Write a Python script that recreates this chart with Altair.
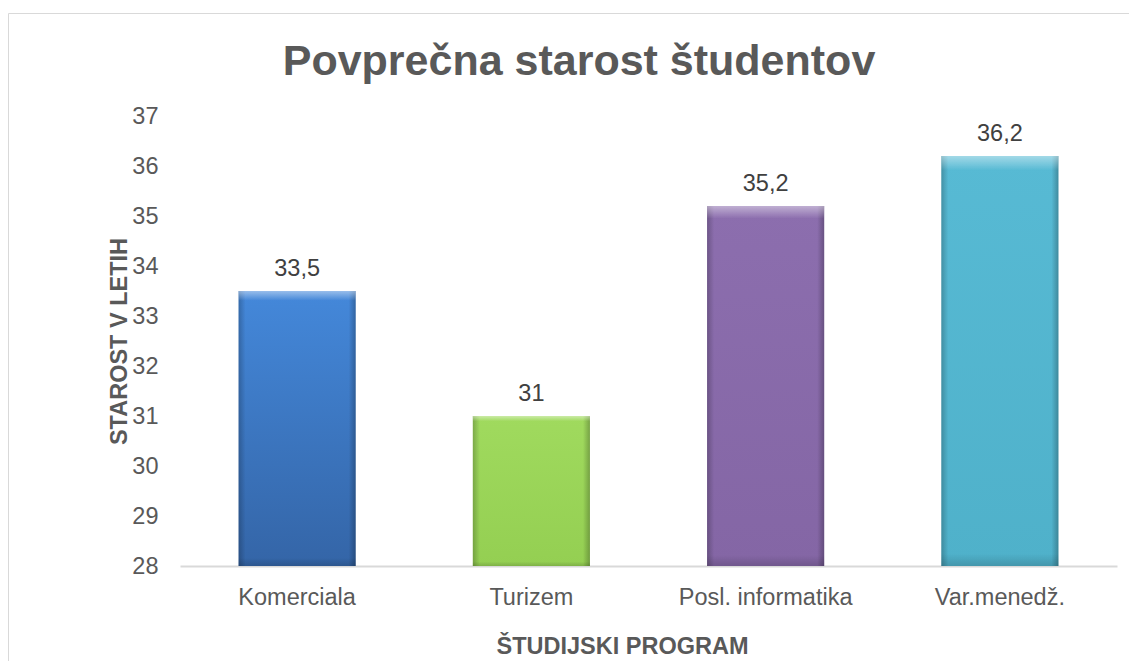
import altair as alt
import pandas as pd

programs = ["Komerciala", "Turizem", "Posl. informatika", "Var.menedž."]
ages = [33.5, 31, 35.2, 36.2]
top_colors = ["#4488da", "#a0da5e", "#8c6eae", "#57bad4"]
bottom_colors = ["#3465a7", "#94cf52", "#8466a5", "#4fb1ca"]
y_ticks = [28, 29, 30, 31, 32, 33, 34, 35, 36, 37]

FONT = "Liberation Sans, Arial, sans-serif"
TXT = "#595959"

df = pd.DataFrame({"program": programs, "age": ages})
base = alt.Chart(df)

x_enc = alt.X(
    "program:N",
    sort=programs,
    scale=alt.Scale(paddingInner=0.5, paddingOuter=0.25),
    axis=alt.Axis(
        title="ŠTUDIJSKI PROGRAM",
        labelAngle=0,
        labelFont=FONT,
        labelFontSize=23.5,
        labelColor=TXT,
        labelPadding=19,
        ticks=False,
        domainColor="#d9d9d9",
        domainWidth=2,
        titleFont=FONT,
        titleFontSize=23.5,
        titleFontWeight="bold",
        titleColor=TXT,
        titleX=442,
        titleY=87,
        titleAlign="center",
        titleBaseline="alphabetic",
        grid=False,
    ),
)
y_enc = alt.Y(
    "age:Q",
    scale=alt.Scale(domain=[28, 37], zero=False, nice=False),
    axis=alt.Axis(
        title="STAROST V LETIH",
        values=y_ticks,
        labelFont=FONT,
        labelFontSize=23.5,
        labelColor=TXT,
        labelPadding=22,
        ticks=False,
        domain=False,
        grid=False,
        titleFont=FONT,
        titleFontSize=23.5,
        titleFontWeight="bold",
        titleColor=TXT,
        titleAngle=270,
        titleX=-54,
        titleY=225,
        titleAlign="center",
        titleBaseline="alphabetic",
    ),
)

layers = []

# chart frame border (top and left edges visible in the frame)
frame = alt.Data(values=[{"k": 1}])
top_line = alt.Chart(frame).mark_rule(color="#d9d9d9", strokeWidth=1).encode(
    x=alt.value(-171.5), x2=alt.value(1200), y=alt.value(-102.5)
)
left_line = alt.Chart(frame).mark_rule(color="#d9d9d9", strokeWidth=1).encode(
    x=alt.value(-171.5), y=alt.value(-102.5), y2=alt.value(800)
)
layers += [top_line, left_line]

for prog, tc, bc in zip(programs, top_colors, bottom_colors):
    bar = base.transform_filter(alt.datum.program == prog).mark_bar(
        color=alt.Gradient(
            gradient="linear", x1=0, x2=0, y1=0, y2=1,
            stops=[alt.GradientStop(color=tc, offset=0),
                   alt.GradientStop(color=bc, offset=1)],
        )
    ).encode(x=x_enc, y=y_enc, y2=alt.datum(28))
    layers.append(bar)

# bevel edges overlay
edge = base.mark_bar(
    color=alt.Gradient(
        gradient="linear", x1=0, x2=1, y1=0, y2=0,
        stops=[
            alt.GradientStop(color="rgba(0,0,0,0.22)", offset=0),
            alt.GradientStop(color="rgba(0,0,0,0)", offset=0.06),
            alt.GradientStop(color="rgba(0,0,0,0)", offset=0.94),
            alt.GradientStop(color="rgba(0,0,0,0.25)", offset=1),
        ],
    )
).encode(x=x_enc, y=y_enc, y2=alt.datum(28))
layers.append(edge)

top_hl = base.mark_bar(
    color=alt.Gradient(
        gradient="linear", x1=0, x2=0, y1=0, y2=1,
        stops=[
            alt.GradientStop(color="rgba(255,255,255,0.45)", offset=0),
            alt.GradientStop(color="rgba(255,255,255,0.0)", offset=0.035),
            alt.GradientStop(color="rgba(0,0,0,0)", offset=0.97),
            alt.GradientStop(color="rgba(0,0,0,0.15)", offset=1),
        ],
    )
).encode(x=x_enc, y=y_enc, y2=alt.datum(28))
layers.append(top_hl)

labels = base.transform_calculate(
    lab="replace(toString(datum.age), '.', ',')"
).mark_text(
    baseline="alphabetic", dy=-15, font=FONT, fontSize=23.5, color="#404040"
).encode(x=x_enc, y=y_enc, text="lab:N")
layers.append(labels)

title = alt.Chart(alt.Data(values=[{"t": "Povprečna starost študentov"}])).mark_text(
    font=FONT, fontSize=43, fontWeight="bold", color=TXT,
    align="center", baseline="alphabetic",
).encode(x=alt.value(399), y=alt.value(-41), text="t:N")
layers.append(title)

chart = alt.layer(*layers).properties(
    width=937,
    height=450,
    autosize=alt.AutoSizeParams(type="none"),
    padding={"left": 172, "top": 108, "right": 12, "bottom": 95},
    background="white",
).configure_view(stroke=None)

chart.save("out.html", embed_options={"renderer": "svg", "actions": False})
